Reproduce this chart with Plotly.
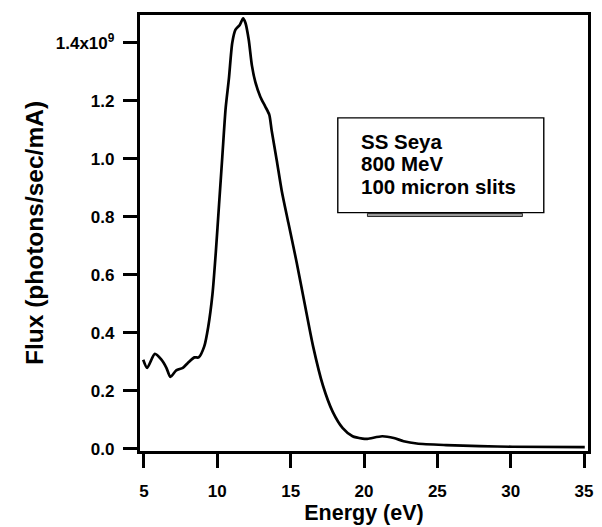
import plotly.graph_objects as go

# Data (flux in units of 1e9 photons/sec/mA)
energy_ev = [4.95, 5.22, 5.74, 6.19, 6.53, 6.80, 7.20, 7.65, 7.99, 8.44, 8.73, 9.11, 9.38,
             9.67, 9.90, 10.12, 10.34, 10.57, 10.79, 11.02, 11.24, 11.54, 11.76, 11.92,
             12.14, 12.36, 12.59, 12.93, 13.27, 13.54, 13.71, 14.05, 14.39, 14.84, 15.40,
             15.96, 16.53, 17.20, 17.87, 18.55, 19.22, 19.90, 20.23, 21.24, 22.03, 22.70,
             23.60, 25.60, 27.87, 30.10, 35.05]
flux_e9 = [0.307, 0.279, 0.327, 0.307, 0.279, 0.248, 0.270, 0.279, 0.296, 0.315, 0.315,
           0.353, 0.420, 0.533, 0.679, 0.843, 1.006, 1.175, 1.276, 1.400, 1.445, 1.462,
           1.484, 1.468, 1.411, 1.321, 1.265, 1.214, 1.180, 1.152, 1.096, 0.995, 0.890,
           0.780, 0.645, 0.499, 0.353, 0.218, 0.127, 0.071, 0.043, 0.035, 0.034, 0.043,
           0.037, 0.026, 0.018, 0.0125, 0.009, 0.0068, 0.0057]

x_tickvals = [5, 10, 15, 20, 25, 30, 35]
y_tickvals = [0.0, 0.2, 0.4, 0.6, 0.8, 1.0, 1.2, 1.4]
y_ticktext = ["0.0", "0.2", "0.4", "0.6", "0.8", "1.0", "1.2", "1.4x10<sup>9</sup>"]
legend_lines = ["SS Seya", "800 MeV", "100 micron slits"]

FONT = "Liberation Sans, Arial, Helvetica, sans-serif"

fig = go.Figure()
fig.add_trace(go.Scatter(
    x=energy_ev, y=flux_e9, mode="lines",
    line=dict(color="black", width=2.7, shape="spline", smoothing=0.7),
    hoverinfo="skip", showlegend=False,
))

axis_common = dict(
    showline=True, linecolor="black", linewidth=3.4, mirror=True,
    ticks="outside", ticklen=14, tickwidth=3, tickcolor="black",
    showgrid=False, zeroline=False,
    tickfont=dict(family=FONT, size=17, color="black", weight="bold"),
)

fig.update_layout(
    width=602, height=527,
    margin=dict(l=140, r=9, t=15, b=67),
    paper_bgcolor="white", plot_bgcolor="white",
    xaxis=dict(
        range=[4.730, 35.270], tickvals=x_tickvals,
        title=dict(text="Energy (eV)", standoff=2,
                   font=dict(family=FONT, size=21.5, color="black", weight="bold")),
        ticklabelstandoff=8,
        **axis_common,
    ),
    yaxis=dict(
        range=[-0.0078, 1.4956], tickvals=y_tickvals, ticktext=y_ticktext,
        title=dict(text="Flux (photons/sec/mA)", standoff=6,
                   font=dict(family=FONT, size=24.5, color="black", weight="bold")),
        ticklabelstandoff=5,
        **axis_common,
    ),
)

# Legend-like text box
fig.add_shape(type="rect", xref="paper", yref="paper",
              x0=0.4415, x1=0.9013, y0=0.5467, y1=0.7640,
              line=dict(color="black", width=1.4), fillcolor="white")
fig.add_shape(type="rect", xref="paper", yref="paper",
              x0=0.5077, x1=0.8536, y0=0.5378, y1=0.5449,
              line=dict(color="black", width=0.8), fillcolor="#999999")
for txt, yp in zip(legend_lines, [0.7108, 0.6584, 0.6061]):
    fig.add_annotation(text=txt, xref="paper", yref="paper", x=0.4894, y=yp,
                       xanchor="left", yanchor="middle", showarrow=False,
                       font=dict(family=FONT, size=20.5, color="black", weight="bold"))

fig.write_html("out.html", post_script="document.body.style.margin='0';",
               config={"displayModeBar": False})
